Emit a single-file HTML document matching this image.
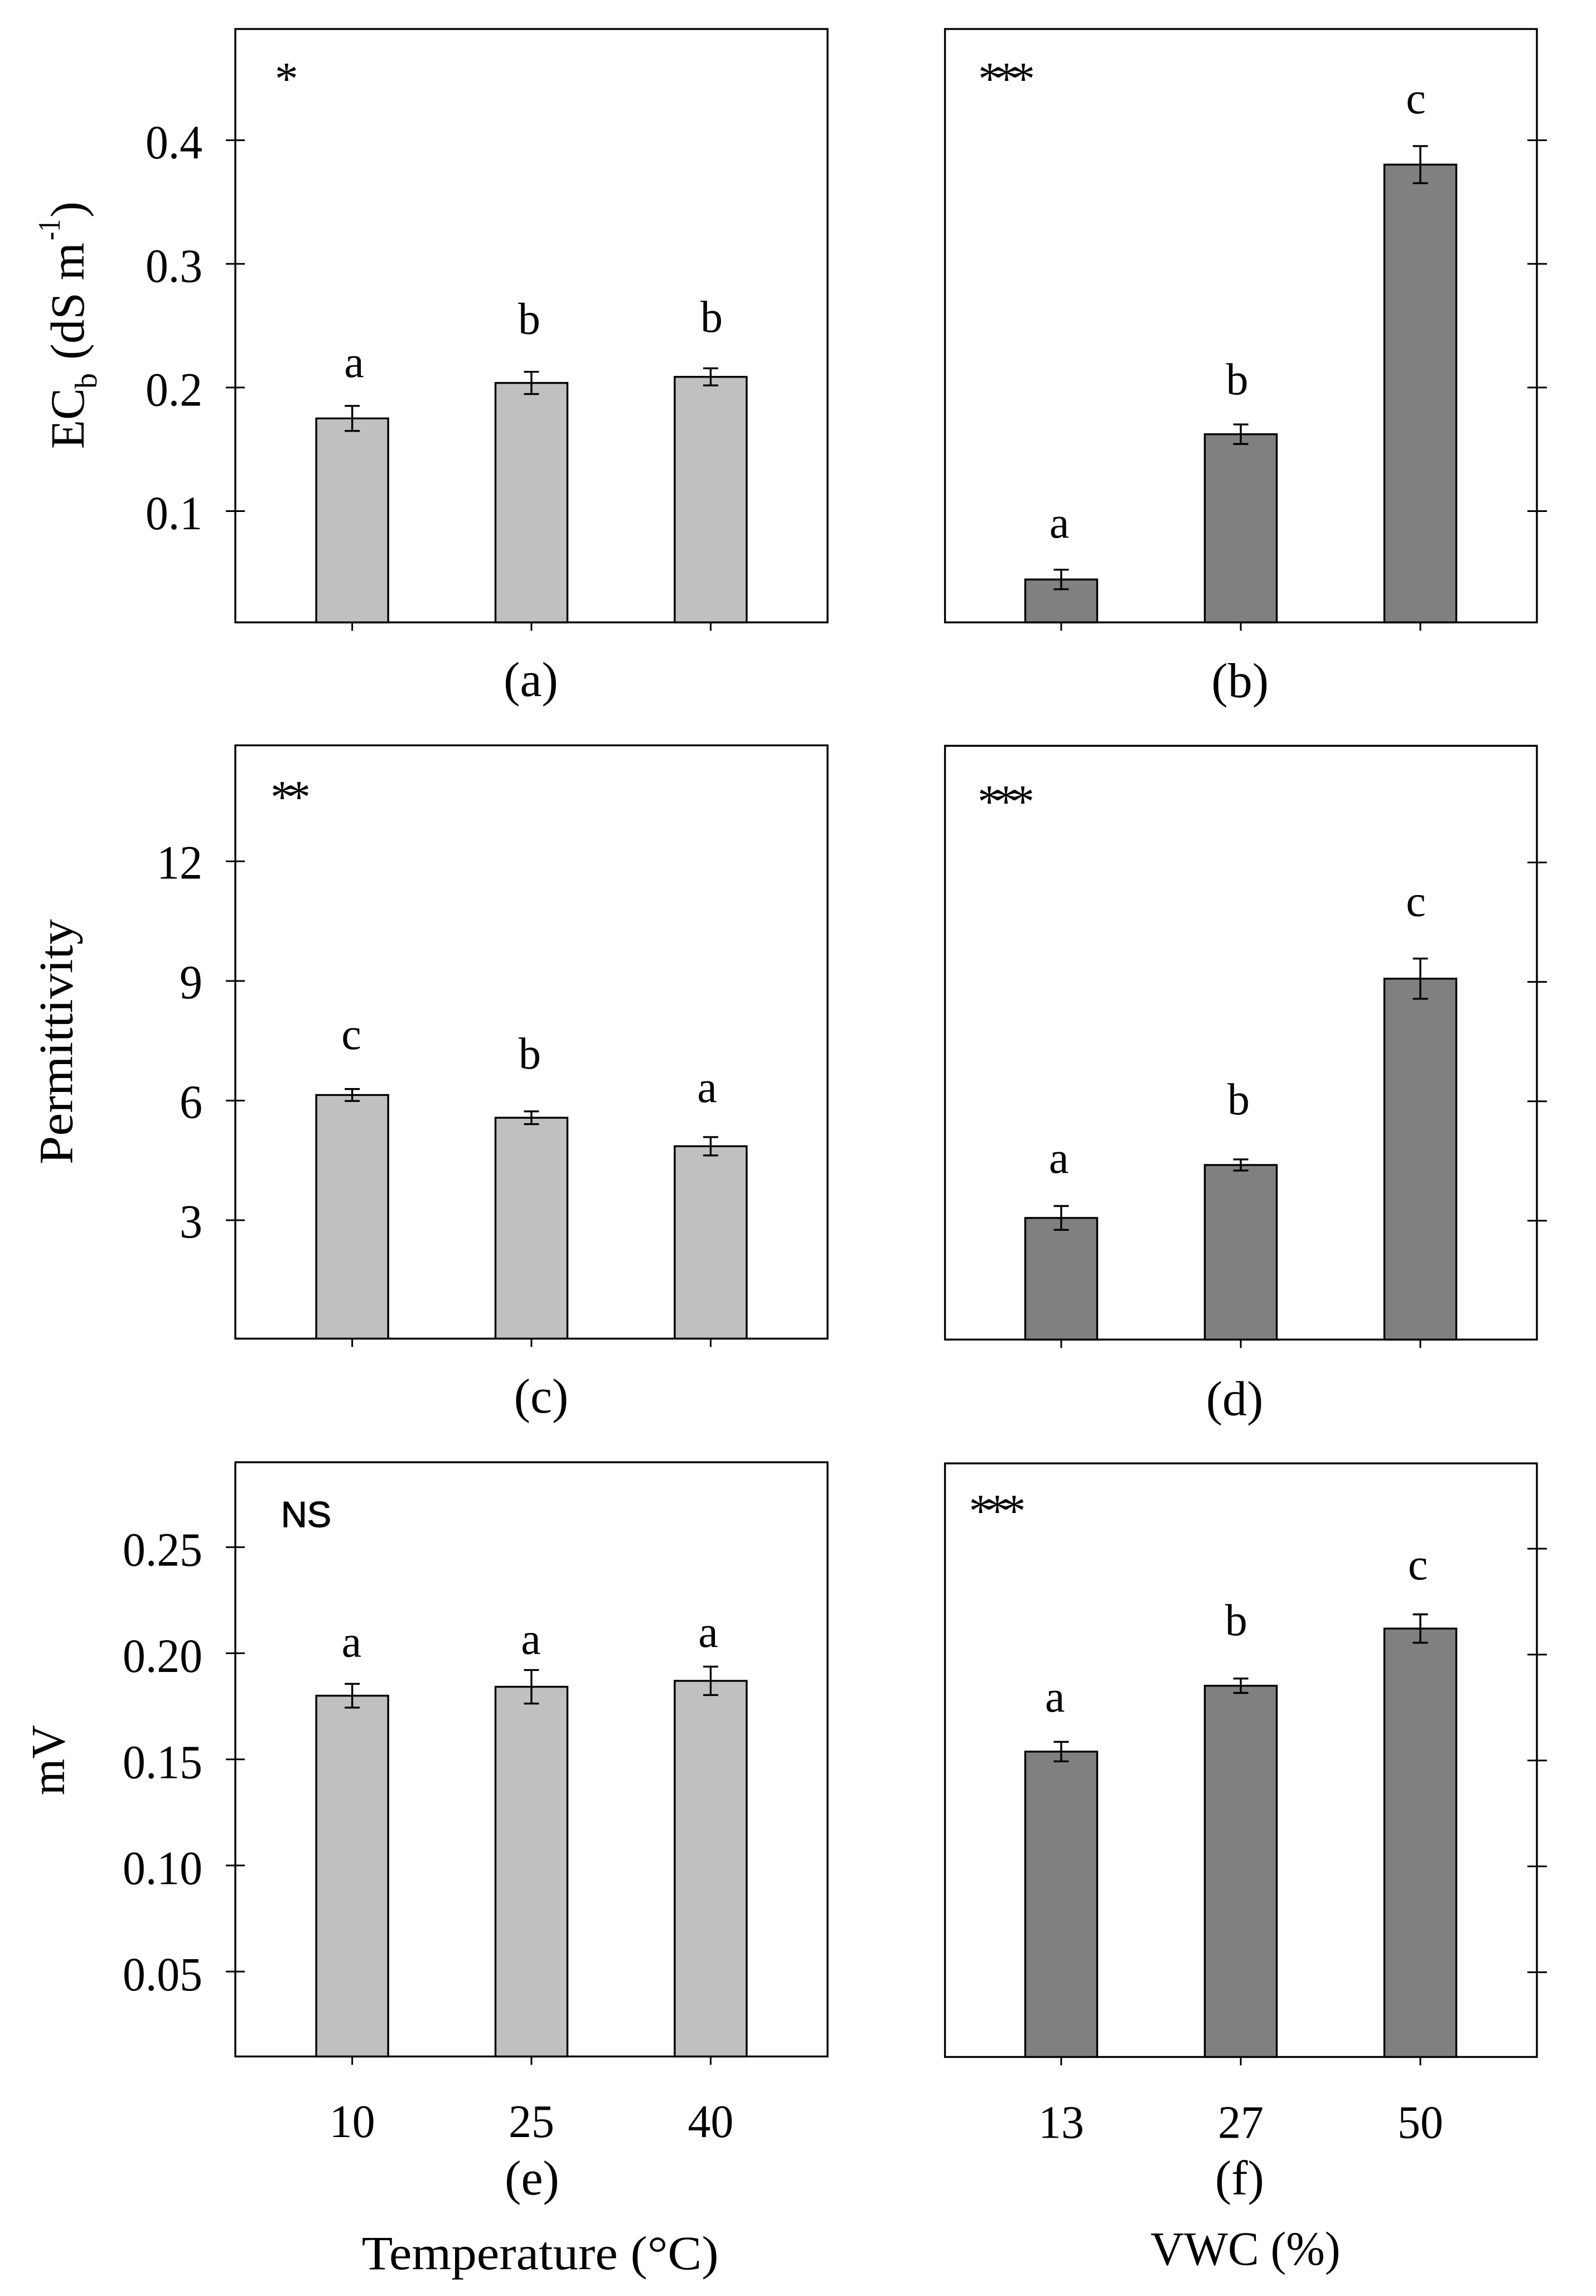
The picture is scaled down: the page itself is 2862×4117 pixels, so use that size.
<!DOCTYPE html>
<html lang="en">
<head>
<meta charset="utf-8">
<title>EC, permittivity and mV by temperature and VWC</title>
<style>
  html, body { margin: 0; padding: 0; background: #ffffff; }
  svg { display: block; }
  text { font-family: "Liberation Serif", "DejaVu Serif", serif; fill: #000000; }
  .ns { font-family: "Liberation Sans", Arial, sans-serif; stroke: #000000; stroke-width: 1.2px; }
</style>
</head>
<body>
<svg id="figure" xmlns="http://www.w3.org/2000/svg" width="2862" height="4117" viewBox="0 0 2862 4117">
  <rect x="0" y="0" width="2862" height="4117" fill="#ffffff"/>
  <g id="marks"></g>

  <g>
    <text x="150" y="805" font-size="86" textLength="109" lengthAdjust="spacingAndGlyphs" transform="rotate(-90 150 805)">EC</text>
    <text x="173" y="697" font-size="56" transform="rotate(-90 173 697)">b</text>
    <text x="150" y="645" font-size="86" textLength="210" lengthAdjust="spacingAndGlyphs" transform="rotate(-90 150 645)">(dS m</text>
    <text x="107" y="431" font-size="56" textLength="38" lengthAdjust="spacingAndGlyphs" transform="rotate(-90 107 431)">-1</text>
    <text x="150" y="390" font-size="86" transform="rotate(-90 150 390)">)</text>
  </g>
  <text x="129.5" y="2088" font-size="86" textLength="440" lengthAdjust="spacingAndGlyphs" transform="rotate(-90 129.5 2088)">Permittivity</text>
  <text x="115" y="3219" font-size="86" textLength="126" lengthAdjust="spacingAndGlyphs" transform="rotate(-90 115 3219)">mV</text>

  <text x="648.6" y="4069" font-size="86" textLength="640" lengthAdjust="spacingAndGlyphs">Temperature (°C)</text>
  <text x="2063" y="4061" font-size="86" textLength="340.6" lengthAdjust="spacingAndGlyphs">VWC (%)</text>

  <g font-size="88" text-anchor="middle">
    <text x="952" y="1248">(a)</text>
    <text x="2223.7" y="1250">(b)</text>
    <text x="970.5" y="2533">(c)</text>
    <text x="2214" y="2537.5">(d)</text>
    <text x="954" y="3935">(e)</text>
    <text x="2222.8" y="3935">(f)</text>
  </g>

  <g font-size="84" text-anchor="middle">
    <text x="513.7" y="169">*</text>
    <text x="1799" y="169" letter-spacing="-12">***</text>
    <text x="515" y="1457" letter-spacing="-12">**</text>
    <text x="1798" y="1465" letter-spacing="-12">***</text>
    <text x="1782.4" y="2737" letter-spacing="-12">***</text>
  </g>
  <text class="ns" x="549" y="2738" font-size="65" text-anchor="middle">NS</text>

  <g font-size="80" text-anchor="middle">
    <text x="635" y="676">a</text>
    <text x="949" y="598.7">b</text>
    <text x="1276" y="595">b</text>
    <text x="1899.6" y="964">a</text>
    <text x="2218.5" y="707">b</text>
    <text x="2539" y="203">c</text>
    <text x="630" y="1881">c</text>
    <text x="950" y="1916">b</text>
    <text x="1268" y="1976">a</text>
    <text x="1898.8" y="2103">a</text>
    <text x="2221" y="1998">b</text>
    <text x="2539" y="1642.5">c</text>
    <text x="630.4" y="2970.5">a</text>
    <text x="952" y="2965.7">a</text>
    <text x="1270" y="2953">a</text>
    <text x="1891.8" y="3069">a</text>
    <text x="2216.8" y="2931.8">b</text>
    <text x="2542.6" y="2832">c</text>
  </g>
</svg>

<script>
// ---- chart data ----
const ecTempValues = [0.175, 0.2037, 0.2086];
const ecTempErrors = [0.0101, 0.009, 0.0069];
const ecVwcValues = [0.0447, 0.1622, 0.3803];
const ecVwcErrors = [0.0079, 0.0079, 0.015];
const permTempValues = [6.14, 5.57, 4.855];
const permTempErrors = [0.15, 0.16, 0.23];
const permVwcValues = [3.07, 4.40, 9.08];
const permVwcErrors = [0.30, 0.14, 0.505];
const mvTempValues = [0.18, 0.1842, 0.187];
const mvTempErrors = [0.0056, 0.0079, 0.0067];
const mvVwcValues = [0.1542, 0.1853, 0.2123];
const mvVwcErrors = [0.0046, 0.0034, 0.0067];

const temperatureCategories = ['10', '25', '40'];
const vwcCategories = ['13', '27', '50'];

const ecTickValues = [0.1, 0.2, 0.3, 0.4];
const ecTickLabels = ['0.1', '0.2', '0.3', '0.4'];
const permTickValues = [3, 6, 9, 12];
const permTickLabels = ['3', '6', '9', '12'];
const mvTickValues = [0.05, 0.10, 0.15, 0.20, 0.25];
const mvTickLabels = ['0.05', '0.10', '0.15', '0.20', '0.25'];

const NS = 'http://www.w3.org/2000/svg';
const marksRoot = document.getElementById('marks');

function make(tag, parent, attrs) {
  const node = document.createElementNS(NS, tag);
  Object.keys(attrs).forEach(function (k) { node.setAttribute(k, attrs[k]); });
  parent.appendChild(node);
  return node;
}

function labelWidth(str) {
  let w = 0;
  for (const ch of str) { w += ch === '.' ? 20 : 41; }
  return w;
}

function drawPanel(p) {
  const yScale = function (v) {
    return p.bottom - (v - p.domain[0]) / (p.domain[1] - p.domain[0]) * (p.bottom - p.top);
  };
  const xScale = function (i) { return p.firstCenter + i * p.step; };

  const group = make('g', marksRoot, {});
  
  

  const frame = make('rect', group, {
    x: p.left, y: p.top, width: p.right - p.left, height: p.bottom - p.top,
    fill: 'none', stroke: '#000', 'stroke-width': 3.4
  });
  
  

  p.values.forEach(function (v, i) {
    const cx = xScale(i);
    const bar = make('rect', group, {
      x: cx - 64.5, y: yScale(v), width: 129, height: p.bottom - yScale(v),
      fill: p.fill, stroke: '#000', 'stroke-width': 3.4
    });
    
    

    const yHigh = yScale(v + p.errors[i]);
    const yLow = yScale(v - p.errors[i]);
    const err = make('path', group, {
      d: 'M' + (cx - 13.5) + ' ' + yHigh + 'H' + (cx + 13.5) +
         'M' + cx + ' ' + yHigh + 'V' + yLow +
         'M' + (cx - 13.5) + ' ' + yLow + 'H' + (cx + 13.5),
      fill: 'none', stroke: '#000', 'stroke-width': 3.4
    });
    
    

    const xTick = make('line', group, {
      x1: cx, x2: cx, y1: p.bottom, y2: p.bottom + 15, stroke: '#000', 'stroke-width': 3
    });
    
    

    if (p.categories) {
      const xLabel = make('text', group, {
        x: cx, y: p.categoryBaseline, 'font-size': 84, 'text-anchor': 'middle',
        textLength: labelWidth(p.categories[i]), lengthAdjust: 'spacingAndGlyphs'
      });
      xLabel.textContent = p.categories[i];
      
      
    }
  });

  p.ticks.forEach(function (t, i) {
    const ty = yScale(t);
    const tickLine = make('line', group, {
      x1: p.tickX[0], x2: p.tickX[1], y1: ty, y2: ty, stroke: '#000', 'stroke-width': 3
    });
    
    

    if (p.tickLabels) {
      const yLabel = make('text', group, {
        x: p.labelRight, y: ty + p.labelDy, 'font-size': 86, 'text-anchor': 'end',
        textLength: labelWidth(p.tickLabels[i]), lengthAdjust: 'spacingAndGlyphs'
      });
      yLabel.textContent = p.tickLabels[i];
      
      
    }
  });
}

const LEFT_COL = { left: 422, right: 1484, firstCenter: 631.6, step: 321.4, fill: '#c0c0c0', tickX: [405, 439], labelRight: 363 };
const RIGHT_COL = { left: 1694.6, right: 2756, firstCenter: 1903, step: 322, fill: '#808080', tickX: [2739, 2774] };

drawPanel(Object.assign({}, LEFT_COL, {
  id: 'a', top: 52, bottom: 1116, domain: [0.01, 0.49],
  values: ecTempValues, errors: ecTempErrors,
  ticks: ecTickValues, tickLabels: ecTickLabels, labelDy: 32.5
}));
drawPanel(Object.assign({}, RIGHT_COL, {
  id: 'b', top: 52, bottom: 1116, domain: [0.01, 0.49],
  values: ecVwcValues, errors: ecVwcErrors,
  ticks: ecTickValues
}));
drawPanel(Object.assign({}, LEFT_COL, {
  id: 'c', top: 1336.5, bottom: 2400.3, domain: [0.03, 14.91],
  values: permTempValues, errors: permTempErrors,
  ticks: permTickValues, tickLabels: permTickLabels, labelDy: 31
}));
drawPanel(Object.assign({}, RIGHT_COL, {
  id: 'd', top: 1337.3, bottom: 2402, domain: [0.015, 14.93],
  values: permVwcValues, errors: permVwcErrors,
  ticks: permTickValues
}));
drawPanel(Object.assign({}, LEFT_COL, {
  id: 'e', top: 2622, bottom: 3687.5, domain: [0.01, 0.29],
  values: mvTempValues, errors: mvTempErrors,
  ticks: mvTickValues, tickLabels: mvTickLabels, labelDy: 33.5,
  categories: temperatureCategories, categoryBaseline: 3832
}));
drawPanel(Object.assign({}, RIGHT_COL, {
  id: 'f', top: 2624, bottom: 3688.4, domain: [0.01, 0.2903],
  values: mvVwcValues, errors: mvVwcErrors,
  ticks: mvTickValues,
  categories: vwcCategories, categoryBaseline: 3833.5
}));
</script>
</body>
</html>
